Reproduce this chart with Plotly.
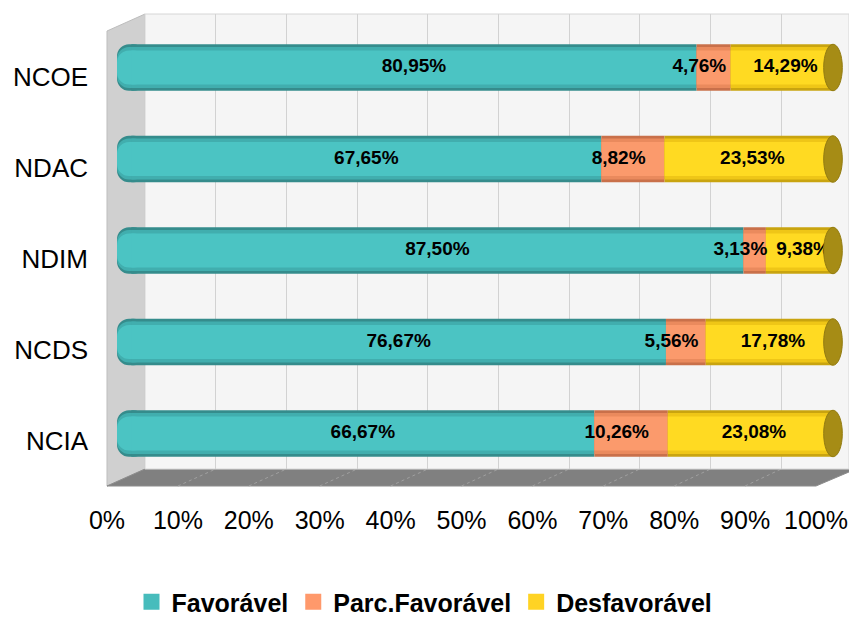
import plotly.graph_objects as go

# data (top row first)
categories = ["NCOE", "NDAC", "NDIM", "NCDS", "NCIA"]
favoravel = [80.95, 67.65, 87.50, 76.67, 66.67]
parc_favoravel = [4.76, 8.82, 3.13, 5.56, 10.26]
desfavoravel = [14.29, 23.53, 9.38, 17.78, 23.08]
series_names = ["Favorável", "Parc.Favorável", "Desfavorável"]
legend_colors = ["#47bcbc", "#ff996b", "#ffd324"]
x_ticks = [0, 10, 20, 30, 40, 50, 60, 70, 80, 90, 100]
x_ticktext = [f"{t}%" for t in x_ticks]

W, H = 849, 617


def px(v):
    return v / W


def py(v):
    return 1 - v / H


def fmt(v):
    return f"{v:.2f}".replace(".", ",") + "%"


# three shades per series to fake the cylinder look: (width, color)
teal_shades = [(0.508, "#358c8c"), (0.45, "#41aeae"), (0.37, "#4bc4c3")]
orange_shades = [(0.508, "#c9704a"), (0.45, "#ea8a5d"), (0.37, "#fb9a6c")]
yellow_shades = [(0.508, "#c9a40f"), (0.45, "#efc617"), (0.37, "#ffda22")]

starts_parc = favoravel
starts_desf = [f + p for f, p in zip(favoravel, parc_favoravel)]
CAP = 4  # length of the rounded left end piece
n = len(categories)

fig = go.Figure()

# invisible trace so the back wall subplot is built
fig.add_trace(go.Scatter(x=[0, 99], y=[0, 1], mode="markers", marker=dict(opacity=0),
                         showlegend=False, hoverinfo="skip", xaxis="x", yaxis="y"))

for w, c in teal_shades:
    # rounded left end of the cylinder
    fig.add_trace(go.Bar(y=categories, x=[CAP] * n, base=[0] * n,
                         orientation="h", width=w,
                         marker=dict(color=c, line=dict(width=0), cornerradius=12),
                         showlegend=False, xaxis="x2", yaxis="y2", hoverinfo="skip"))
    fig.add_trace(go.Bar(y=categories, x=[v - CAP / 2 for v in favoravel], base=[CAP / 2] * n,
                         orientation="h", width=w,
                         marker=dict(color=c, line=dict(width=0)),
                         showlegend=False, xaxis="x2", yaxis="y2", hoverinfo="skip"))
for w, c in orange_shades:
    fig.add_trace(go.Bar(y=categories, x=parc_favoravel, base=starts_parc,
                         orientation="h", width=w,
                         marker=dict(color=c, line=dict(width=0)),
                         showlegend=False, xaxis="x2", yaxis="y2", hoverinfo="skip"))
for w, c in yellow_shades:
    fig.add_trace(go.Bar(y=categories, x=desfavoravel, base=starts_desf,
                         orientation="h", width=w,
                         marker=dict(color=c, line=dict(width=0)),
                         showlegend=False, xaxis="x2", yaxis="y2", hoverinfo="skip"))

# data labels
label_font = dict(family="Liberation Sans, Arial", size=19, color="black", weight="bold")
fig.add_trace(go.Scatter(x=[v / 2 + 1 for v in favoravel], y=categories, mode="text",
                         text=[fmt(v) for v in favoravel], textfont=label_font,
                         showlegend=False, hoverinfo="skip", xaxis="x2", yaxis="y2"))
fig.add_trace(go.Scatter(x=[s + v / 2 - 2 for s, v in zip(starts_parc, parc_favoravel)],
                         y=categories, mode="text",
                         text=[fmt(v) for v in parc_favoravel], textfont=label_font,
                         showlegend=False, hoverinfo="skip", xaxis="x2", yaxis="y2"))
fig.add_trace(go.Scatter(x=[s + v / 2 + 0.5 for s, v in zip(starts_desf, desfavoravel)],
                         y=categories, mode="text",
                         text=[fmt(v) for v in desfavoravel], textfont=label_font,
                         showlegend=False, hoverinfo="skip", xaxis="x2", yaxis="y2"))

# axis for category and percent labels (front edge of the box)
fig.add_trace(go.Scatter(x=[0] * n, y=categories, mode="markers",
                         marker=dict(opacity=0), showlegend=False, hoverinfo="skip",
                         xaxis="x3", yaxis="y3"))

# legend entries with bigger square swatches
for name, col in zip(series_names, legend_colors):
    fig.add_trace(go.Scatter(x=[None], y=[None], mode="markers", name=name,
                             marker=dict(symbol="square", size=16, color=col),
                             xaxis="x2", yaxis="y2"))

shapes = []
# left wall
shapes.append(dict(type="path", xref="paper", yref="paper", layer="below",
                   path=f"M{px(107)},{py(31)} L{px(145)},{py(14)} L{px(145)},{py(469)} L{px(107)},{py(486)} Z",
                   fillcolor="#d0d0d0", line=dict(color="#bdbdbd", width=1)))
# floor
shapes.append(dict(type="path", xref="paper", yref="paper", layer="below",
                   path=f"M{px(107)},{py(486)} L{px(145)},{py(469)} L{px(856)},{py(469)} L{px(816)},{py(486)} Z",
                   fillcolor="#808080", line=dict(color="#8c8c8c", width=1)))
# floor grid (dashed)
for t in x_ticks[1:-1]:
    fx = 107 + (816 - 107) * t / 100
    bx = 145 + 707 * t / 100
    shapes.append(dict(type="line", xref="paper", yref="paper", layer="below",
                       x0=px(fx), y0=py(486), x1=px(bx), y1=py(469),
                       line=dict(color="#a0a0a0", width=1, dash="dot")))
# back wall
shapes.append(dict(type="rect", xref="x domain", yref="y domain", layer="below",
                   x0=0, x1=1, y0=0, y1=1, fillcolor="#f5f5f5",
                   line=dict(color="#d6d6d6", width=1)))
# cylinder end caps
for i, c in enumerate(categories):
    shapes.append(dict(type="circle", xref="x2", yref="y2", layer="above",
                       x0=100 - 1.3, x1=100 + 1.3, y0=i - 0.254, y1=i + 0.254,
                       fillcolor="#a68c15", line=dict(color="#927b10", width=1)))

fig.update_layout(
    width=W, height=H,
    margin=dict(l=0, r=0, t=0, b=0, autoexpand=False),
    paper_bgcolor="white", plot_bgcolor="rgba(0,0,0,0)",
    font=dict(family="Liberation Sans, Arial", color="black"),
    barmode="overlay",
    shapes=shapes,
    showlegend=True,
    legend=dict(orientation="h", x=0.5, xanchor="center", y=py(602), yanchor="middle",
                font=dict(size=25, weight="bold"), traceorder="normal",
                itemsizing="trace", bgcolor="rgba(0,0,0,0)"),
    # back wall grid
    xaxis=dict(domain=[px(145), 1], range=[0, (W - 145) / 7.07], dtick=10, tick0=0,
               showgrid=True, gridcolor="#d2d2d2", gridwidth=1, zeroline=False,
               showticklabels=False, ticks="", showline=False, fixedrange=True, anchor="y"),
    yaxis=dict(domain=[py(469), py(14)], range=[0, 1], showgrid=False, zeroline=False,
               showticklabels=False, ticks="", showline=False, fixedrange=True, anchor="x"),
    # bars: 0% at x=117px, 100% at x=833px, domain runs to the right edge so caps are not clipped
    xaxis2=dict(domain=[px(117), 1], range=[0, 100 * (W - 117) / (833 - 117)],
                showgrid=False, zeroline=False,
                showticklabels=False, ticks="", showline=False, anchor="y2"),
    yaxis2=dict(domain=[py(479.25), py(21.75)], type="category", categoryarray=categories,
                range=[4.5, -0.5], showgrid=False, zeroline=False, showticklabels=False,
                ticks="", showline=False, anchor="x2"),
    # label axes
    xaxis3=dict(domain=[px(107), px(816)], range=[0, 100], tickmode="array",
                tickvals=x_ticks, ticktext=x_ticktext,
                tickfont=dict(size=25), showgrid=False, zeroline=False, ticks="",
                showline=False, anchor="y3", ticklabelstandoff=17),
    yaxis3=dict(domain=[py(486), py(31)], type="category", categoryarray=categories,
                range=[4.5, -0.5], tickfont=dict(size=26), showgrid=False, zeroline=False,
                ticks="", showline=False, anchor="x3", ticklabelstandoff=18),
)

fig.write_html("out.html", config={"displayModeBar": False},
               post_script="document.body.style.margin='0';document.body.style.overflow='hidden';")
